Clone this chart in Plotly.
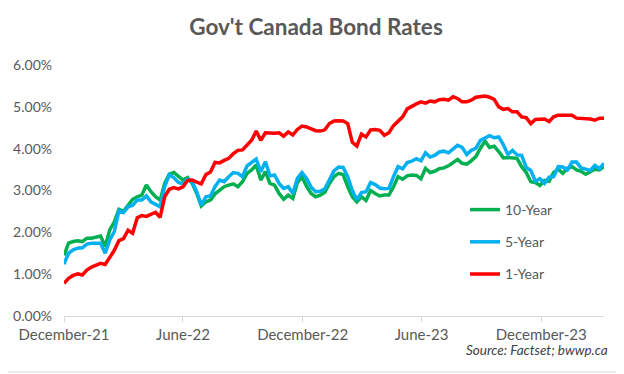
import plotly.graph_objects as go
import pandas as pd

dates = pd.date_range("2021-12-01", periods=119, freq="7D")

ten_year = [
    1.45, 1.74, 1.78, 1.80, 1.78, 1.86, 1.86, 1.88, 1.91, 1.66,
    2.06, 2.25, 2.55, 2.50, 2.65, 2.79, 2.85, 2.89, 3.13, 2.97,
    2.85, 2.77, 3.17, 3.39, 3.43, 3.33, 3.25, 3.31, 3.17, 2.93,
    2.63, 2.73, 2.77, 2.92, 3.01, 3.09, 3.13, 3.16, 3.09, 3.21,
    3.41, 3.49, 3.61, 3.25, 3.45, 3.17, 3.13, 2.93, 2.79, 2.89,
    2.81, 3.19, 3.33, 3.10, 2.93, 2.85, 2.89, 2.96, 3.17, 3.33,
    3.41, 3.38, 3.09, 2.85, 2.73, 2.85, 2.76, 3.00, 2.93, 2.87,
    2.89, 2.89, 3.09, 3.33, 3.27, 3.35, 3.37, 3.36, 3.28, 3.53,
    3.43, 3.46, 3.52, 3.54, 3.59, 3.67, 3.74, 3.65, 3.63, 3.71,
    3.81, 4.01, 4.18, 4.03, 4.06, 3.93, 3.78, 3.79, 3.77, 3.77,
    3.57, 3.43, 3.21, 3.19, 3.12, 3.24, 3.22, 3.43, 3.51, 3.41,
    3.53, 3.57, 3.49, 3.46, 3.39, 3.45, 3.51, 3.49, 3.57,
]

five_year = [
    1.24, 1.50, 1.58, 1.62, 1.63, 1.72, 1.74, 1.74, 1.74, 1.50,
    1.82, 2.02, 2.52, 2.47, 2.61, 2.65, 2.77, 2.77, 2.87, 2.73,
    2.68, 2.61, 3.09, 3.37, 3.31, 3.19, 3.16, 3.27, 3.21, 2.97,
    2.65, 2.85, 2.87, 3.09, 3.25, 3.21, 3.33, 3.43, 3.41, 3.33,
    3.59, 3.67, 3.75, 3.45, 3.69, 3.35, 3.37, 3.17, 3.05, 3.09,
    2.93, 3.29, 3.43, 3.29, 3.08, 2.97, 2.98, 3.04, 3.25, 3.47,
    3.56, 3.55, 3.33, 3.00, 2.78, 2.95, 2.97, 3.19, 3.14, 3.06,
    3.04, 3.05, 3.33, 3.57, 3.52, 3.67, 3.70, 3.76, 3.71, 3.90,
    3.80, 3.84, 3.92, 3.94, 3.90, 4.00, 4.08, 4.03, 3.86, 3.96,
    4.01, 4.20, 4.25, 4.31, 4.26, 4.28, 4.10, 3.86, 3.96, 3.85,
    3.84, 3.55, 3.48, 3.22, 3.28, 3.17, 3.32, 3.33, 3.57, 3.56,
    3.49, 3.68, 3.68, 3.54, 3.51, 3.48, 3.60, 3.52, 3.65,
]

one_year = [
    0.78, 0.90, 0.97, 1.01, 0.98, 1.10, 1.17, 1.22, 1.26, 1.23,
    1.40, 1.57, 1.80, 1.85, 2.05, 1.98, 2.35, 2.40, 2.38, 2.42,
    2.48, 2.36, 2.85, 3.03, 3.07, 3.04, 3.09, 3.24, 3.25, 3.20,
    3.16, 3.38, 3.44, 3.67, 3.66, 3.72, 3.77, 3.88, 3.96, 3.97,
    4.10, 4.20, 4.42, 4.20, 4.38, 4.37, 4.37, 4.38, 4.30, 4.40,
    4.33, 4.46, 4.54, 4.52, 4.47, 4.43, 4.42, 4.45, 4.60, 4.66,
    4.67, 4.66, 4.60, 4.15, 4.06, 4.35, 4.28, 4.45, 4.46, 4.44,
    4.32, 4.38, 4.55, 4.66, 4.76, 4.95, 5.02, 5.07, 5.12, 5.09,
    5.14, 5.12, 5.17, 5.18, 5.16, 5.24, 5.20, 5.12, 5.12, 5.16,
    5.23, 5.25, 5.26, 5.23, 5.18, 5.00, 4.94, 4.96, 4.88, 4.88,
    4.76, 4.74, 4.60, 4.70, 4.70, 4.71, 4.65, 4.76, 4.80, 4.80,
    4.80, 4.80, 4.73, 4.73, 4.71, 4.71, 4.68, 4.73, 4.73,
]

series_names = ["10-Year", "5-Year", "1-Year"]
series_colors = ["#00B050", "#00B0F0", "#FF0000"]

tick_dates = ["2021-12-01", "2022-06-01", "2022-12-01", "2023-06-01", "2023-12-01"]
tick_labels = ["December-21", "June-22", "December-22", "June-23", "December-23"]
y_ticks = [0, 1, 2, 3, 4, 5, 6]
y_tick_labels = ["0.00%", "1.00%", "2.00%", "3.00%", "4.00%", "5.00%", "6.00%"]

FONT = "Lato, 'Open Sans', sans-serif"
GRAY = "#595959"

# page body has an 8px margin, so the figure is laid out 8px smaller
W, H = 616, 366
L, R, T, B = 56, 20, 57, 58
PW, PH = W - L - R, H - T - B

fig = go.Figure()
for name, vals, col in zip(series_names, [ten_year, five_year, one_year], series_colors):
    fig.add_trace(go.Scatter(
        x=dates, y=vals, mode="lines", name=name, legendgroup=name,
        line=dict(color=col, width=3.5),
    ))

fig.update_layout(
    width=W, height=H,
    margin=dict(l=L, r=R, t=T, b=B, autoexpand=False),
    paper_bgcolor="white", plot_bgcolor="white",
    font=dict(family=FONT, color=GRAY, size=14),
    title=dict(text="<b>Gov't Canada Bond Rates</b>", x=0.5, xanchor="center",
               y=1 - 19 / H, yanchor="middle", yref="container",
               font=dict(size=22.5, color=GRAY, family=FONT)),
    showlegend=True,
    legend=dict(x=(457 - L) / PW, y=(308 - 186) / PH, xanchor="left", yanchor="top",
                bgcolor="rgba(0,0,0,0)", tracegroupgap=11,
                font=dict(size=14, color=GRAY, family=FONT)),
    xaxis=dict(
        range=["2021-12-01", "2024-03-06"], automargin=False,
        tickmode="array", tickvals=tick_dates, ticktext=tick_labels,
        showgrid=False, zeroline=False,
        showline=True, linecolor="#D9D9D9", linewidth=1,
        ticks="outside", tickcolor="#D9D9D9", ticklen=5,
        tickfont=dict(size=15, color=GRAY),
    ),
    yaxis=dict(
        range=[0, 6], automargin=False,
        tickmode="array", tickvals=y_ticks, ticktext=y_tick_labels,
        showgrid=False, zeroline=False, showline=False,
        ticks="", ticklabelstandoff=11, tickfont=dict(size=14, color=GRAY),
    ),
    shapes=[
        dict(type="line", xref="paper", yref="paper",
             x0=-L / PW, x1=(613 - L) / PW, y0=(308 - 364) / PH, y1=(308 - 364) / PH,
             line=dict(color="#D9D9D9", width=1)),
        dict(type="line", xref="paper", yref="paper",
             x0=(613 - L) / PW, x1=(613 - L) / PW, y0=(308 - 364) / PH, y1=308 / PH,
             line=dict(color="#D9D9D9", width=1)),
    ],
    annotations=[dict(text="<i>Source: Factset; bwwp.ca</i>", xref="paper", yref="paper",
                      x=(602 - L) / PW, y=(308 - 342) / PH,
                      xanchor="right", yanchor="middle", showarrow=False,
                      font=dict(size=13.5, color="#404040", family=FONT))],
)

fig.write_html("out.html")
